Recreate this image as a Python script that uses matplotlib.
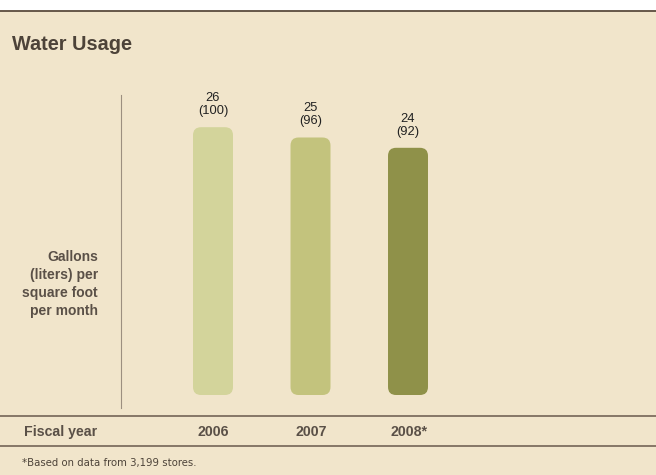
import matplotlib.pyplot as plt
from matplotlib.patches import FancyBboxPatch
from matplotlib.lines import Line2D

years = ['2006', '2007', '2008*']
gallons = [26, 25, 24]
liters = [100, 96, 92]
bar_colors = ['#d3d49b', '#c3c37d', '#8f9149']

plt.rcParams['font.family'] = ['Liberation Sans', 'DejaVu Sans']

W, H = 656, 475
fig = plt.figure(figsize=(W / 100, H / 100), dpi=100)
fig.patch.set_facecolor('white')

# background panel + rules, in pixel space
bg = fig.add_axes([0, 0, 1, 1])
bg.set_xlim(0, W)
bg.set_ylim(H, 0)
bg.axis('off')
bg.add_patch(plt.Rectangle((0, 11), W, H - 11, color='#f1e5cb', zorder=0))
bg.add_line(Line2D([0, W], [11, 11], color='#5b4c3e', lw=1.3))
bg.add_line(Line2D([0, W], [416, 416], color='#7d6e5f', lw=1.3))
bg.add_line(Line2D([0, W], [446, 446], color='#7d6e5f', lw=1.3))
bg.add_line(Line2D([121, 121], [95, 408], color='#9c8f80', lw=0.8))

text_col = '#4d4339'
bg.text(12, 44, 'Water Usage', fontsize=14.3, fontweight='bold', color=text_col,
        va='center', ha='left')
bg.text(98, 284, 'Gallons\n(liters) per\nsquare foot\nper month', fontsize=10,
        fontweight='bold', color='#5a5047', ha='right', va='center', linespacing=1.36)
bg.text(24, 432, 'Fiscal year', fontsize=10.2, fontweight='bold', color='#5a5047',
        ha='left', va='center')
bg.text(22, 463, '*Based on data from 3,199 stores.', fontsize=7.3, family='DejaVu Sans',
        color=text_col, ha='left', va='center')

# bar axes: baseline at y=395px, 10.3 px per gallon
scale = 10.3
top_px = 60
ax = fig.add_axes([121 / W, (H - 395) / H, (W - 121) / W, (395 - top_px) / H])
ax.set_xlim((121 - 213) / 97.5, (W - 213) / 97.5)
ax.set_ylim(0, (395 - top_px) / scale)
ax.axis('off')

bw = 0.41
rx = 8 / 97.5
ry = 8 / scale
for i, (g, l, c) in enumerate(zip(gallons, liters, bar_colors)):
    p = FancyBboxPatch((i - bw / 2, 0), bw, g,
                       boxstyle=f'round,pad=0,rounding_size={rx}',
                       mutation_aspect=ry / rx, fc=c, ec='none')
    ax.add_patch(p)
    ax.text(i, g + 1.0, f'{g}\n({l})', ha='center', va='bottom', fontsize=9.3,
            color='#222222', linespacing=1.08)
    bg.text(213 + 98 * i, 432, years[i], fontsize=10.2, fontweight='bold',
            color='#5a5047', ha='center', va='center')

fig.savefig('out.png', dpi=100)
